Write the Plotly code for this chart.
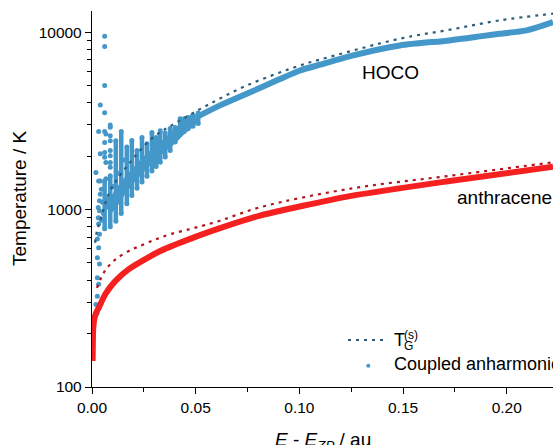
import plotly.graph_objects as go

# ---------------- data ----------------
# HOCO, coupled anharmonic: main band (centre line) at higher energies
hoco_band_E = [0.0500, 0.0600, 0.0746, 0.0900, 0.1003, 0.1100, 0.1250, 0.1484, 0.1724, 0.1880, 0.1965, 0.2095, 0.2223]
hoco_band_T = [3300, 3780, 4490, 5400, 6080, 6550, 7350, 8410, 8980, 9490, 9790, 10220, 11380]

# HOCO, coupled anharmonic: lower dense part of the low-energy region (centre line)
hoco_base_E = [0.0075, 0.0115, 0.0141, 0.0192, 0.0241, 0.0289, 0.0329, 0.0377, 0.0425, 0.0500]
hoco_base_T = [1000, 1150, 1280, 1520, 1760, 2000, 2200, 2450, 2780, 3300]

# HOCO, coupled anharmonic: vertical streaks of the low-energy saw-tooth (E, T_low, T_high)
hoco_streak_E = [0.0061, 0.0088, 0.0115, 0.0141, 0.0168, 0.0192, 0.0217, 0.0241, 0.0265, 0.0289,
                 0.0309, 0.0329, 0.0353, 0.0377, 0.0401, 0.0425, 0.0444, 0.0463, 0.0487, 0.0512]
hoco_streak_lo = [780, 800, 860, 950, 1080, 1200, 1320, 1430, 1540, 1650,
                  1750, 1850, 1980, 2150, 2400, 2650, 2750, 2850, 2950, 3050]
hoco_streak_hi = [1450, 1550, 2440, 2750, 2250, 2450, 2150, 2550, 2350, 2720,
                  2550, 2780, 2700, 2860, 2900, 3250, 3250, 3300, 3400, 3500]

# HOCO, coupled anharmonic: scattered points close to the zero-point energy
hoco_pts_E = [0.0061, 0.0061, 0.0061, 0.0040, 0.0061, 0.0088, 0.0088, 0.0032, 0.0061, 0.0067,
              0.0088, 0.0061, 0.0088, 0.0040, 0.0061, 0.0088, 0.0088, 0.0061, 0.0067, 0.0088,
              0.0088, 0.0019, 0.0032, 0.0040, 0.0067, 0.0040, 0.0036, 0.0030, 0.0036, 0.0030,
              0.0032, 0.0036, 0.0026, 0.0032, 0.0026, 0.0036, 0.0026, 0.0032, 0.0026, 0.0019,
              0.0024, 0.0045, 0.0050, 0.0055, 0.0045, 0.0075, 0.0100, 0.0128, 0.0155]
hoco_pts_T = [9490, 8300, 5000, 3890, 3510, 3000, 2910, 2750, 2750, 2670,
              2610, 2390, 2440, 2060, 2100, 2150, 2010, 1970, 1840, 1840,
              1730, 1620, 1450, 1450, 1490, 1220, 1120, 1027, 985, 900,
              830, 726, 683, 610, 535, 493, 413, 379, 325, 292,
              260, 1300, 1100, 950, 870, 1150, 1350, 1600, 1900]

# HOCO, T_G^(s)
hoco_tg_E = [0.0015, 0.0024, 0.0037, 0.0088, 0.0184, 0.0295, 0.0409, 0.0553, 0.0746, 0.1003,
             0.1099, 0.1484, 0.1724, 0.1965, 0.2223]
hoco_tg_T = [650, 760, 845, 1277, 1846, 2550, 3100, 3855, 5000, 6490,
             7000, 9180, 10310, 11640, 12700]

# anthracene, coupled anharmonic
anth_E = [0.0003, 0.0004, 0.0006, 0.0012, 0.0020, 0.0032, 0.0064, 0.0112, 0.0176, 0.0257,
          0.0329, 0.0489, 0.0650, 0.0810, 0.1243, 0.1725, 0.2223]
anth_T = [140, 175, 215, 245, 262, 279, 333, 395, 460, 525,
          584, 695, 809, 925, 1190, 1449, 1742]

# anthracene, T_G^(s)
anth_tg_E = [0.0024, 0.0056, 0.0088, 0.0120, 0.0184, 0.0224, 0.0296, 0.0377, 0.0489, 0.0617,
             0.0810, 0.1243, 0.1725, 0.2223]
anth_tg_T = [362, 440, 492, 531, 590, 618, 671, 726, 785, 865,
             1030, 1310, 1550, 1846]

x_ticks = [0.00, 0.05, 0.10, 0.15, 0.20]
x_ticktext = ["0.00", "0.05", "0.10", "0.15", "0.20"]
x_minor = [0.025, 0.075, 0.125, 0.175]
y_ticks = [100, 1000, 10000]
y_ticktext = ["100", "1000", "10000"]
y_minor = [200, 300, 400, 500, 600, 700, 800, 900,
           2000, 3000, 4000, 5000, 6000, 7000, 8000, 9000]

# ---------------- style ----------------
BLUE = "#4497c9"
BLUE_DOT = "#2d5d7b"
RED = "#f52020"
RED_DOT = "#b3141c"
FONT = "Arial, Liberation Sans, sans-serif"

W, H = 553, 445
ML, MR, MT, MB = 92, 0, 11, 58
PW, PH = W - ML - MR, H - MT - MB


def px(xp):
    return (xp - ML) / PW


def py(yp):
    return (H - MB - yp) / PH


fig = go.Figure()

# streaks: each one a vertical segment between its low and high temperature,
# with a dot at both ends
seg_x, seg_y = [], []
for e, lo, hi in zip(hoco_streak_E, hoco_streak_lo, hoco_streak_hi):
    seg_x += [e, e, None]
    seg_y += [lo, hi, None]
fig.add_trace(go.Scatter(x=seg_x, y=seg_y, mode="lines+markers",
                         line=dict(color=BLUE, width=4.5),
                         marker=dict(color=BLUE, size=5),
                         showlegend=False, hoverinfo="skip"))
fig.add_trace(go.Scatter(x=hoco_base_E, y=hoco_base_T, mode="lines",
                         line=dict(color=BLUE, width=11, shape="spline", smoothing=0.8),
                         showlegend=False, hoverinfo="skip"))
fig.add_trace(go.Scatter(x=hoco_band_E, y=hoco_band_T, mode="lines",
                         line=dict(color=BLUE, width=6, shape="spline", smoothing=0.8),
                         showlegend=False))
fig.add_trace(go.Scatter(x=hoco_pts_E, y=hoco_pts_T, mode="markers",
                         marker=dict(color=BLUE, size=5), showlegend=False))

fig.add_trace(go.Scatter(x=anth_E, y=anth_T, mode="lines",
                         line=dict(color=RED, width=6, shape="spline", smoothing=0.6),
                         showlegend=False))

fig.add_trace(go.Scatter(x=hoco_tg_E, y=hoco_tg_T, mode="lines",
                         line=dict(color=BLUE_DOT, width=2.2, dash="3px,5px", shape="spline"),
                         showlegend=False))
fig.add_trace(go.Scatter(x=anth_tg_E, y=anth_tg_T, mode="lines",
                         line=dict(color=RED_DOT, width=2.2, dash="3px,5px", shape="spline"),
                         showlegend=False))

# legend drawn by hand so that the sub- and superscript of T stack
shapes = [
    dict(type="line", xref="paper", yref="paper", x0=px(348), x1=px(387), y0=py(340), y1=py(340),
         line=dict(color=BLUE_DOT, width=2.2, dash="3px,5px")),
    dict(type="circle", xref="paper", yref="paper", x0=px(366.3), x1=px(370.3),
         y0=py(367.7), y1=py(363.7), fillcolor=BLUE, line=dict(width=0)),
]

annotations = [
    dict(text="T", x=px(392), y=py(340), xref="paper", yref="paper", xanchor="left",
         yanchor="middle", showarrow=False, font=dict(size=18, family=FONT, color="black")),
    dict(text="(s)", x=px(402), y=py(334.5), xref="paper", yref="paper", xanchor="left",
         yanchor="middle", showarrow=False, font=dict(size=12, family=FONT, color="black")),
    dict(text="G", x=px(402), y=py(346), xref="paper", yref="paper", xanchor="left",
         yanchor="middle", showarrow=False, font=dict(size=12, family=FONT, color="black")),
    dict(text="Coupled anharmonic", x=px(392), y=py(364), xref="paper", yref="paper",
         xanchor="left", yanchor="middle", showarrow=False,
         font=dict(size=18, family=FONT, color="black")),
    dict(text="HOCO", x=px(390), y=py(72), xref="paper", yref="paper", xanchor="center",
         yanchor="middle", showarrow=False, font=dict(size=19, family=FONT, color="black")),
    dict(text="anthracene", x=px(455), y=py(197.5), xref="paper", yref="paper", xanchor="left",
         yanchor="middle", showarrow=False, font=dict(size=19, family=FONT, color="black")),
    dict(text="Temperature / K", x=px(19), y=0.5, xref="paper", yref="paper", textangle=-90,
         xanchor="center", yanchor="middle", showarrow=False,
         font=dict(size=19, family=FONT, color="black")),
    dict(text="<i>E</i> - <i>E</i><sub><i>ZP</i></sub> / au", x=0.5, y=py(441), xref="paper",
         yref="paper", xanchor="center", yanchor="middle", showarrow=False,
         font=dict(size=19, family=FONT, color="black")),
]

axis_common = dict(showline=True, linecolor="black", linewidth=1.3, ticks="outside",
                   ticklen=6, tickwidth=1.3, tickcolor="black", showgrid=False, zeroline=False,
                   tickfont=dict(size=15.5, family=FONT, color="black"), mirror=False)

fig.update_layout(
    width=W, height=H,
    margin=dict(l=ML, r=MR, t=MT, b=MB, pad=0),
    paper_bgcolor="white", plot_bgcolor="white",
    showlegend=False,
    shapes=shapes, annotations=annotations,
    xaxis=dict(range=[0, 0.2223], tickvals=x_ticks, ticktext=x_ticktext,
               minor=dict(tickvals=x_minor, ticks="outside", ticklen=3.5, tickwidth=1.3,
                          tickcolor="black"),
               **axis_common),
    yaxis=dict(type="log", range=[2, 4.119], tickvals=y_ticks, ticktext=y_ticktext,
               minor=dict(tickvals=y_minor, ticks="outside", ticklen=3.5, tickwidth=1.3,
                          tickcolor="black"),
               **axis_common),
)

fig.write_html("out.html")
